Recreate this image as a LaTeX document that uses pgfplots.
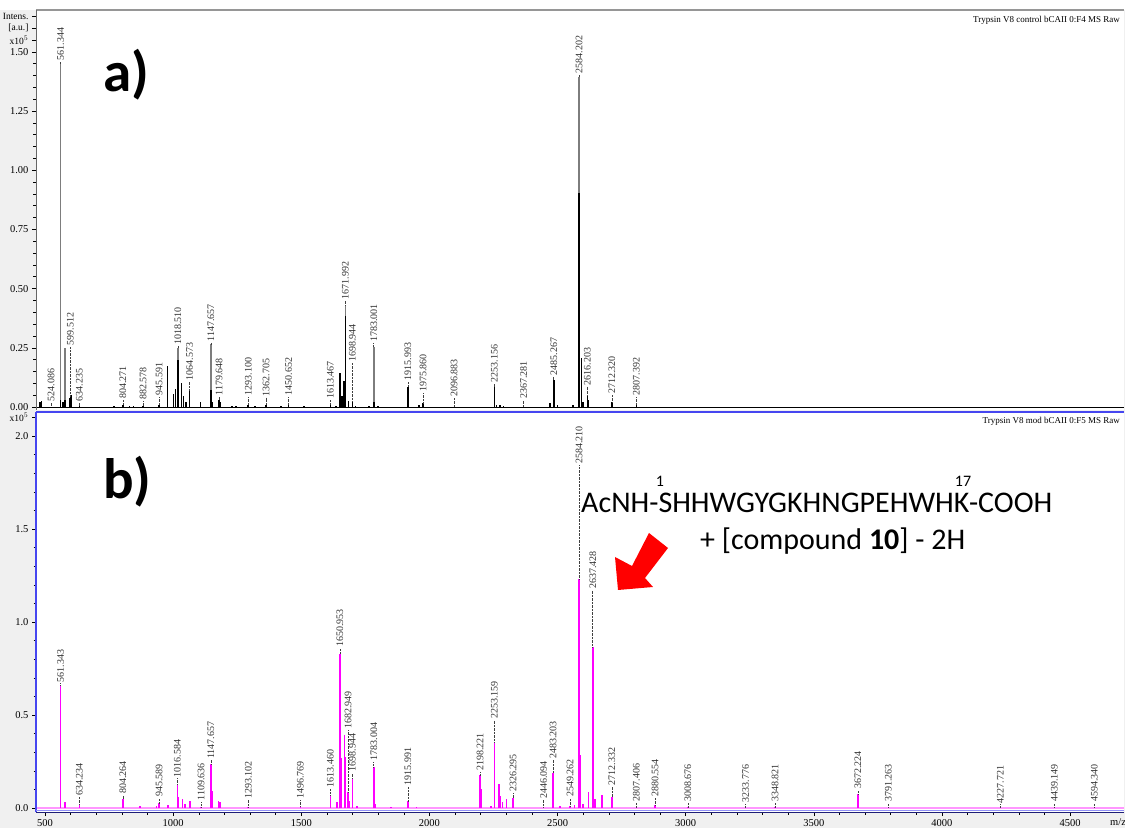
\documentclass[border=0pt]{standalone}
\usepackage{fontspec}
\setmainfont{Liberation Serif}
\newfontfamily\calibri{Carlito}
\usepackage{pgfplots}
\usepackage{pgfplotstable}
\pgfplotsset{compat=1.18}

\definecolor{panelgray}{RGB}{240,240,240}
\definecolor{specmag}{RGB}{255,0,255}
\definecolor{basepink}{RGB}{255,150,255}
\definecolor{framegray}{RGB}{150,150,150}
\definecolor{frameblue}{RGB}{70,70,240}
\definecolor{framenavy}{RGB}{30,30,120}
\definecolor{peakgray}{RGB}{125,125,125}

% ---------- spectrum a): control digest (intensities in 10^5 a.u.) ----------
\pgfplotstableread{
x y
561.34 1.45
578 0.25
1018.51 0.25
1147.66 0.265
1671.99 0.43
1783.00 0.255
2584.20 1.395
}\topgray

\pgfplotstableread{
x y
480 0.02
486 0.025
561.34 0.03
570 0.02
578 0.03
596 0.04
599.51 0.045
603 0.05
634.24 0.005
770 0.004
804.27 0.01
830 0.005
845 0.004
882.58 0.005
945.59 0.01
979 0.173
1001 0.055
1010 0.075
1018.51 0.20
1033 0.10
1040 0.045
1050 0.02
1064.57 0.07
1107 0.02
1147.66 0.07
1152 0.02
1179.65 0.03
1183 0.02
1230 0.004
1245 0.004
1293.10 0.01
1320 0.004
1362.71 0.01
1420 0.004
1450.65 0.01
1510 0.004
1613.47 0.01
1635 0.005
1651 0.145
1658 0.045
1667 0.11
1671.99 0.385
1684 0.025
1698.94 0.025
1712 0.005
1765 0.004
1783.00 0.02
1800 0.005
1915.99 0.086
1960 0.01
1975.86 0.015
2096.88 0.002
2253.16 0.085
2262 0.01
2275 0.008
2290 0.005
2367.28 0.002
2470 0.017
2485.27 0.115
2500 0.01
2560 0.01
2584.20 0.904
2594 0.205
2600 0.02
2616.20 0.05
2620 0.03
2712.32 0.02
2807.39 0.01
}\topblack

% peak annotations: position, peak top, label start, text
\pgfplotstableread{
x peak lab text
524.086 0.005 0.02 524.086
561.344 1.45 1.46 561.344
599.512 0.045 0.255 599.512
634.235 0.005 0.02 634.235
804.271 0.01 0.03 804.271
882.578 0.005 0.025 882.578
945.591 0.01 0.045 945.591
1018.510 0.25 0.258 1018.510
1064.573 0.07 0.107 1064.573
1147.657 0.265 0.272 1147.657
1179.648 0.03 0.045 1179.648
1293.100 0.01 0.045 1293.100
1362.705 0.01 0.04 1362.705
1450.652 0.01 0.045 1450.652
1613.467 0.01 0.03 1613.467
1671.992 0.43 0.45 1671.992
1698.944 0.025 0.185 1698.944
1783.001 0.255 0.27 1783.001
1915.993 0.086 0.107 1915.993
1975.860 0.015 0.059 1975.860
2096.883 0.002 0.038 2096.883
2253.156 0.085 0.10 2253.156
2367.281 0.002 0.03 2367.281
2485.267 0.115 0.128 2485.267
2584.202 1.395 1.405 2584.202
2616.203 0.05 0.086 2616.203
2712.320 0.02 0.05 2712.320
2807.392 0.01 0.044 2807.392
}\toplab

% ---------- spectrum b): modified digest ----------
\pgfplotstableread{
x y
561.34 0.66
578 0.033
634.23 0.02
804.26 0.05
870 0.01
935 0.01
945.59 0.025
979 0.015
1016.58 0.128
1020 0.06
1036 0.05
1046 0.02
1066 0.035
1109.64 0.005
1147.66 0.235
1152 0.09
1178 0.04
1182 0.03
1293.10 0.005
1496.77 0.01
1613.46 0.07
1640 0.03
1650.95 0.83
1655 0.27
1668 0.39
1672 0.275
1682.95 0.085
1688 0.04
1698.94 0.16
1718 0.01
1783.00 0.22
1788 0.02
1850 0.005
1915.99 0.035
1950 0.005
2198.22 0.175
2201 0.10
2240 0.01
2253.16 0.355
2271 0.13
2275 0.065
2285 0.03
2300 0.05
2326.30 0.055
2446.09 0.005
2483.20 0.19
2510 0.01
2549.26 0.01
2567 0.015
2584.21 1.23
2590 0.285
2600 0.02
2620 0.085
2637.43 0.866
2646 0.05
2674 0.07
2712.33 0.06
2807.41 0.003
2880.55 0.015
3008.68 0.003
3233.78 0.003
3348.82 0.003
3672.22 0.075
3791.26 0.005
4227.72 0.003
4439.15 0.005
4594.34 0.005
}\botmag

\pgfplotstableread{
x peak lab text
561.343 0.66 0.67 561.343
634.234 0.02 0.06 634.234
804.264 0.05 0.07 804.264
945.589 0.025 0.054 945.589
1016.584 0.128 0.16 1016.584
1109.636 0.005 0.034 1109.636
1147.657 0.235 0.258 1147.657
1293.102 0.005 0.043 1293.102
1496.769 0.01 0.043 1496.769
1613.460 0.07 0.106 1613.460
1650.953 0.83 0.86 1650.953
1682.949 0.085 0.42 1682.949
1698.944 0.16 0.19 1698.944
1783.004 0.22 0.25 1783.004
1915.991 0.035 0.115 1915.991
2198.221 0.175 0.195 2198.221
2253.159 0.355 0.473 2253.159
2326.295 0.055 0.08 2326.295
2446.094 0.005 0.043 2446.094
2483.203 0.19 0.258 2483.203
2549.262 0.01 0.054 2549.262
2584.210 1.23 1.844 2584.210
2637.428 0.866 1.172 2637.428
2712.332 0.06 0.115 2712.332
2807.406 0.003 0.03 2807.406
2880.554 0.015 0.054 2880.554
3008.676 0.003 0.027 3008.676
3233.776 0.003 0.025 3233.776
3348.821 0.003 0.027 3348.821
3672.224 0.075 0.097 3672.224
3791.263 0.005 0.027 3791.263
4227.721 0.003 0.02 4227.721
4439.149 0.005 0.027 4439.149
4594.340 0.005 0.027 4594.340
}\botlab

\pgfplotsset{
  msaxis/.style={
    scale only axis, width=1088pt, height=400pt,
    xmin=464.9, xmax=4710.3,
    axis line style={draw=none},
    tick align=outside, ytick pos=left, xtick pos=bottom,
    major tick length=4pt, minor tick length=2.5pt,
    tick style={black, line width=0.5pt},
    tick label style={font=\fontsize{10.5}{12}\selectfont},
    /pgf/number format/assume math mode=true,
    axis background/.style={fill=white},
  },
  peaklabels/.style={
    only marks, mark=none,
    nodes near coords, point meta=explicit symbolic,
    every node near coord/.append style={rotate=90, anchor=west,
      inner sep=1pt, font=\fontsize{10}{11}\selectfont, text=black!80},
  },
  leaders/.style={
    draw=none, mark=none, mark size=0pt,
    mark options={draw=none, fill=none},
    error bars/.cd, y dir=plus, y explicit, error mark=none,
    error bar style={draw=black!75, densely dotted, line width=0.6pt},
  },
}

\begin{document}
\begin{tikzpicture}[x=1pt,y=1pt]
  \fill[panelgray] (0,0) rectangle (1125,818);
  \fill[white] (0,818) rectangle (1125,828);

  % ----- a) -----
  \begin{axis}[msaxis, name=top, at={(36pt,418pt)}, anchor=south west,
      ymin=-0.0127, ymax=1.6765,
      ytick={0,0.25,0.5,0.75,1,1.25,1.5}, minor y tick num=4,
      xtick=\empty,
      yticklabel style={/pgf/number format/fixed, /pgf/number format/fixed zerofill,
        /pgf/number format/precision=2},
      extra y ticks={1.55,1.6,1.65},
      extra y tick labels={x10$^5$,{[a.u.]},Intens.},
      extra y tick style={yticklabel style={/tikz/font=\fontsize{9.5}{10}\selectfont}},
    ]
    \addplot[black, line width=0.6pt] coordinates {(464.9,0) (4710.3,0)};
    \addplot[ycomb, peakgray, line width=1.5pt] table[x=x, y=y] {\topgray};
    \addplot[ycomb, black, line width=1.5pt] table[x=x, y=y] {\topblack};
    \addplot[leaders] table[x=x, y=peak, y error expr=\thisrow{lab}-\thisrow{peak}] {\toplab};
    \addplot[peaklabels] table[x=x, y=lab, meta=text] {\toplab};
  \end{axis}

  % ----- b) -----
  \begin{axis}[msaxis, name=bot, at={(36pt,16pt)}, anchor=south west,
      ymin=-0.0215, ymax=2.129,
      ytick={0,0.5,1,1.5,2}, minor y tick num=4,
      xtick={500,1000,...,4500}, minor x tick num=4,
      xticklabel style={/pgf/number format/1000 sep={}},
      yticklabel style={/pgf/number format/fixed, /pgf/number format/fixed zerofill,
        /pgf/number format/precision=1},
      extra y ticks={2.1}, extra y tick labels={x10$^5$},
      extra y tick style={yticklabel style={/tikz/font=\fontsize{9.5}{10}\selectfont}},
    ]
    \addplot[basepink, line width=2pt] coordinates {(464.9,0) (4710.3,0)};
    \addplot[ycomb, specmag, line width=1.5pt] table[x=x, y=y] {\botmag};
    \addplot[leaders] table[x=x, y=peak, y error expr=\thisrow{lab}-\thisrow{peak}] {\botlab};
    \addplot[peaklabels] table[x=x, y=lab, meta=text] {\botlab};
  \end{axis}

  % panel frames
  \draw[framegray, line width=2pt] (top.north west) -- (top.north east);
  \draw[black!60, line width=0.8pt] (top.south west) -- (top.north west);
  \draw[frameblue, line width=1.6pt] (bot.north west) -- (bot.north east);
  \draw[frameblue, line width=1.2pt] (bot.south west) -- (bot.north west);
  \draw[frameblue!60, line width=0.8pt] ([yshift=1.5pt]bot.south west) -- ([yshift=1.5pt]bot.south east);
  \draw[framenavy, line width=1pt] (bot.south west) -- (bot.south east);

  % spectrum titles
  \node[anchor=base east, font=\fontsize{9}{10}\selectfont, inner sep=0] at (1120,805)
    {Trypsin V8 control bCAII 0:F4 MS Raw};
  \node[anchor=base east, font=\fontsize{9}{10}\selectfont, inner sep=0] at (1120,404)
    {Trypsin V8 mod bCAII 0:F5 MS Raw};
  \node[anchor=base west, font=\fontsize{10.5}{12}\selectfont, inner sep=0] at (1110,3) {m/z};

  % panel letters
  \node[anchor=base west, inner sep=0, font=\calibri\bfseries\fontsize{57}{60}\selectfont] at (103,736) {a)};
  \node[anchor=base west, inner sep=0, font=\calibri\bfseries\fontsize{57}{60}\selectfont] at (103,329) {b)};

  % peptide annotation (residue numbers above S1 and K17)
  \node[anchor=base west, inner sep=0, font=\calibri\fontsize{30}{34}\selectfont] at (581,315)
    {AcNH-SHHWGYGKHNGPEHWHK-COOH};
  \node[font=\calibri\fontsize{16}{18}\selectfont, inner sep=0] at (660,347) {1};
  \node[font=\calibri\fontsize{16}{18}\selectfont, inner sep=0] at (963,347) {17};
  \node[anchor=base west, inner sep=0, font=\calibri\fontsize{30}{34}\selectfont] at (700,278)
    {+ [compound \textbf{10}] - 2H};

  % arrow
  \fill[red] (618,238) -- (615,271) -- (632,262) -- (649,295) -- (668,280)
    -- (645,250) -- (653,241) -- cycle;

  \pgfresetboundingbox
  \useasboundingbox (0,0) rectangle (1125,828);
\end{tikzpicture}
\end{document}
